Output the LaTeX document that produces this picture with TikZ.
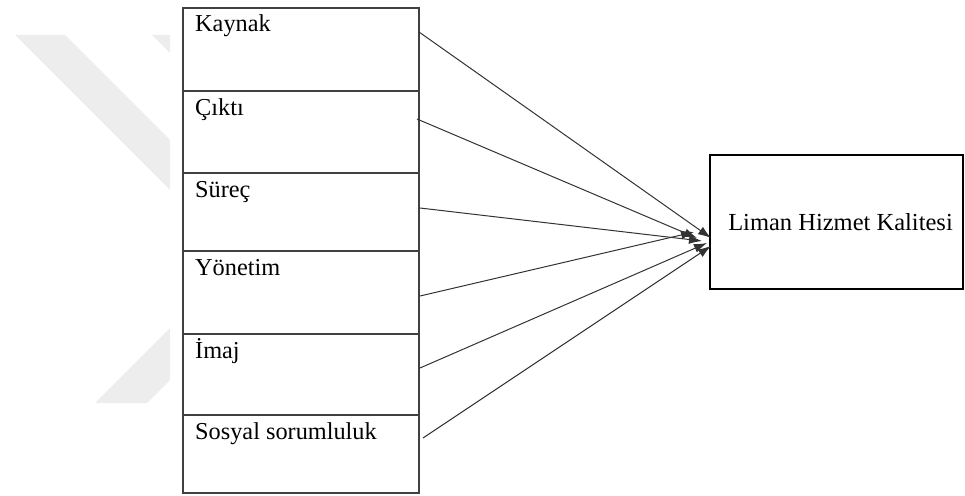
\documentclass[tikz,border=0pt]{standalone}
\usepackage{fontspec}
\setmainfont{Liberation Serif}
\usepackage{tikz}
\usetikzlibrary{arrows.meta,positioning}

\tikzset{
  cell/.style={draw=black!75,line width=1.3pt,minimum width=236pt,inner sep=0pt,outer sep=0pt},
  lbl/.style={anchor=base west,inner sep=0pt,font=\fontsize{24.3}{28}\selectfont},
  goal/.style={draw=black,line width=2pt,minimum width=253pt,minimum height=134pt,font=\fontsize{24.5}{28}\selectfont},
  link/.style={draw=black!80,line width=1pt,-{Latex[length=13pt,width=9pt]}}
}

\begin{document}
\begin{tikzpicture}[x=1pt,y=-1pt]
\useasboundingbox (0,0) rectangle (965,495);
\begin{scope}
\clip (0,0) rectangle (170,495);
\fill[black!7] (15,35)--(65,35)--(265,235)--(215,235)--cycle;
\fill[black!7] (152,35)--(200,35)--(300,135)--(252,135)--cycle;
\fill[black!7] (95,403)--(147,403)--(347,203)--(295,203)--cycle;
\end{scope}
\node[cell,minimum height=83pt] (kaynak) at (301,49.5) {};
\node[cell,minimum height=82pt,below=0pt of kaynak] (cikti) {};
\node[cell,minimum height=78pt,below=0pt of cikti] (surec) {};
\node[cell,minimum height=83pt,below=0pt of surec] (yonetim) {};
\node[cell,minimum height=81pt,below=0pt of yonetim] (imaj) {};
\node[cell,minimum height=78pt,below=0pt of imaj] (sosyal) {};
\node[lbl] (kaynakt) at ([shift={(12,24)}]kaynak.north west) {Kaynak};
\node[lbl] (ciktit) at ([shift={(12,24)}]cikti.north west) {Çıktı};
\node[lbl] (surect) at ([shift={(12,24)}]surec.north west) {Süreç};
\node[lbl] (yonetimt) at ([shift={(12,24)}]yonetim.north west) {Yönetim};
\node[lbl] (imajt) at ([shift={(12,24)}]imaj.north west) {İmaj};
\node[lbl] (sosyalt) at ([shift={(12,24)}]sosyal.north west) {Sosyal sorumluluk};
\node[goal] (liman) at (836.5,222) {\hspace*{8pt}Liman Hizmet Kalitesi};
\coordinate (k1) at (419,32);
\coordinate (c1) at (417,119);
\coordinate (s1) at (420,208);
\coordinate (y1) at (420,296);
\coordinate (i1) at (420,368);
\coordinate (o1) at (423,438);
\coordinate (k2) at (711,238);
\coordinate (c2) at (697,238);
\coordinate (s2) at (702,241);
\coordinate (y2) at (694,232);
\coordinate (i2) at (707,243);
\coordinate (o2) at (711,246);
\draw[link] (k1) -- (k2);
\draw[link] (c1) -- (c2);
\draw[link] (s1) -- (s2);
\draw[link] (y1) -- (y2);
\draw[link] (i1) -- (i2);
\draw[link] (o1) -- (o2);
\end{tikzpicture}
\end{document}
